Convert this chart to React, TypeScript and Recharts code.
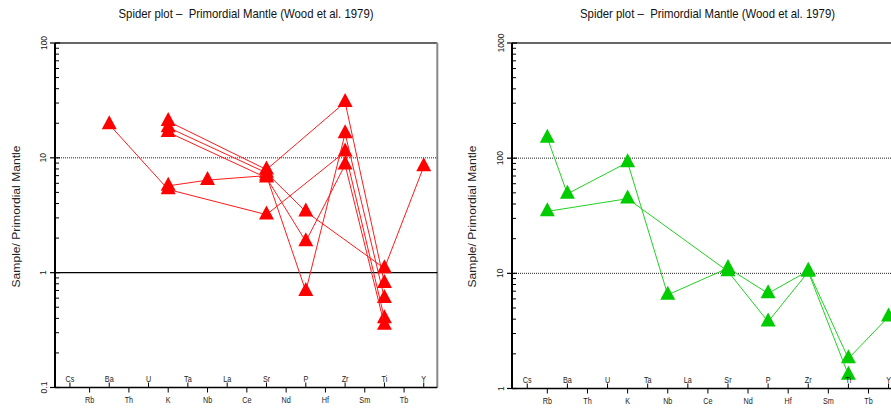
import { ScatterChart, Scatter, XAxis, YAxis, ReferenceLine } from 'recharts'

const ELEMENTS = ['Cs', 'Rb', 'Ba', 'Th', 'U', 'K', 'Ta', 'Nb', 'La', 'Ce', 'Sr', 'Nd', 'P', 'Hf', 'Zr', 'Sm', 'Ti', 'Tb', 'Y']

// sample / primordial mantle, one value per element, null = not plotted
//               Cs    Rb    Ba    Th    U     K     Ta    Nb    La    Ce    Sr    Nd    P     Hf    Zr    Sm    Ti     Tb    Y
const red1 = [null, null, 19.5, null, null, 5.3, null, null, null, null, 3.2, null, null, null, 11.3, null, 0.4, null, null]
const red2 = [null, null, null, null, null, 5.7, null, 6.4, null, null, 7.0, null, 0.69, null, 16.3, null, 0.6, null, null]
const red3 = [null, null, null, null, null, 20.8, null, null, null, null, 7.9, null, null, null, 30.5, null, 0.81, null, null]
const red4 = [null, null, null, null, null, 18.4, null, null, null, null, 7.4, null, 3.4, null, null, null, 1.09, null, 8.4]
const red5 = [null, null, null, null, null, 16.7, null, null, null, null, 6.7, null, 1.87, null, 8.7, null, 0.35, null, null]

const green1 = [null, 150, 49, null, null, 92, null, 6.5, null, null, 11.1, null, 6.7, null, 10.5, null, 1.82, null, 4.2]
const green2 = [null, 34.5, null, null, null, 44.5, null, null, null, null, 10.4, null, 3.8, null, 10.3, null, 1.31, null, null]

const X_DOMAIN: [number, number] = [-0.76, 18.69]
const FONT = '"Liberation Sans", Arial, sans-serif'
const TITLE = 'Spider plot –  Primordial Mantle (Wood et al. 1979)'

const toPoints = (vals: (number | null)[]) =>
  vals.flatMap((v, i) => (v == null ? [] : [{ x: i, y: v }]))

const logTicks = (lo: number, hi: number) => {
  const out: number[] = []
  for (let e = lo; e < hi; e++) for (let m = 1; m < 10; m++) out.push(m * Math.pow(10, e))
  out.push(Math.pow(10, hi))
  return out
}

const isMajor = (v: number) => Math.abs(Math.log10(v) - Math.round(Math.log10(v))) < 1e-6

function YTick(props: any) {
  const { x, y, payload } = props
  const v = payload.value
  if (!isMajor(v)) return <line x1={x} x2={x + 4} y1={y} y2={y} stroke="#000" strokeWidth={1} />
  const lx = x - 8.5
  return (
    <g>
      <line x1={x - 5} x2={x + 5} y1={y} y2={y} stroke="#000" strokeWidth={1.2} />
      <text
        x={lx}
        y={y}
        transform={`rotate(-90 ${lx} ${y})`}
        textAnchor="middle"
        fontSize={8.5}
        fontFamily={FONT}
        fill="#222"
      >
        {String(+v.toPrecision(3))}
      </text>
    </g>
  )
}

function XTick(props: any) {
  const { x, y, payload } = props
  const i = payload.value
  const up = i % 2 === 0
  const ty = up ? y - 6 : y + 15.5
  return (
    <g>
      <line x1={x} x2={x} y1={y} y2={up ? y - 5 : y + 5} stroke="#000" strokeWidth={1} />
      <g transform={`translate(${x} ${ty}) scale(0.85 1)`}>
        <text x={0} y={0} textAnchor="middle" fontSize={8.5} fontFamily={FONT} fill="#222">
          {ELEMENTS[i]}
        </text>
      </g>
    </g>
  )
}

// filled triangle marker, point at its centroid
const triangle = (color: string) => (p: any) => {
  const half = 7.5
  return (
    <polygon
      points={`${p.cx},${p.cy - 9.2} ${p.cx + half},${p.cy + 4.8} ${p.cx - half},${p.cy + 4.8}`}
      fill={color}
    />
  )
}

type PanelProps = {
  left: number
  marginRight: number
  xHeight: number
  decades: [number, number]
  series: (number | null)[][]
  color: string
  lineColor: string
  dotted: number[]
  solid: number[]
}

function Panel({ left, marginRight, xHeight, decades, series, color, lineColor, dotted, solid }: PanelProps) {
  const yMin = Math.pow(10, decades[0])
  const yMax = Math.pow(10, decades[1])
  return (
    <div style={{ position: 'absolute', left, top: 0 }}>
      <ScatterChart width={460} height={410} margin={{ top: 43, right: marginRight, bottom: 0, left: 0 }}>
        <XAxis
          type="number"
          dataKey="x"
          domain={X_DOMAIN}
          allowDataOverflow
          ticks={ELEMENTS.map((_, i) => i)}
          interval={0}
          height={xHeight}
          tickSize={0}
          tickMargin={0}
          tick={<XTick />}
          axisLine={{ stroke: '#000', strokeWidth: 1.5 }}
        />
        <YAxis
          type="number"
          dataKey="y"
          scale="log"
          domain={[yMin, yMax]}
          allowDataOverflow
          ticks={logTicks(decades[0], decades[1])}
          interval={0}
          width={55}
          tickSize={0}
          tickMargin={0}
          tick={<YTick />}
          axisLine={{ stroke: '#000', strokeWidth: 2 }}
        />
        <ReferenceLine y={yMax} stroke="#666" strokeWidth={2} />
        <ReferenceLine x={X_DOMAIN[1]} stroke="#888" strokeWidth={2} />
        {dotted.map((v) => (
          <ReferenceLine key={'d' + v} y={v} stroke="#222" strokeWidth={1} strokeDasharray="1 1" />
        ))}
        {solid.map((v) => (
          <ReferenceLine key={'s' + v} y={v} stroke="#000" strokeWidth={1.3} />
        ))}
        {series.map((s, k) => (
          <Scatter
            key={k}
            data={toPoints(s)}
            fill={color}
            line={{ stroke: lineColor, strokeWidth: 1 }}
            lineType="joint"
            shape={triangle(color)}
            isAnimationActive={false}
          />
        ))}
      </ScatterChart>
    </div>
  )
}

function Labels() {
  const yLabel = (x: number) => (
    <text
      x={x}
      y={216.5}
      transform={`rotate(-90 ${x} 216.5)`}
      textAnchor="middle"
      fontSize={11}
      fontFamily={FONT}
      fill="#222"
      textLength={142}
      lengthAdjust="spacingAndGlyphs"
    >
      Sample/ Primordial Mantle
    </text>
  )
  const title = (x: number) => (
    <text
      x={x}
      y={17.5}
      textAnchor="middle"
      fontSize={13.5}
      fontFamily={FONT}
      fill="#111"
      textLength={255}
      lengthAdjust="spacingAndGlyphs"
      style={{ whiteSpace: 'pre' }}
    >
      {TITLE}
    </text>
  )
  return (
    <svg width={891} height={410} style={{ position: 'absolute', left: 0, top: 0, pointerEvents: 'none' }}>
      {title(246)}
      {title(707.5)}
      {yLabel(20)}
      {yLabel(476)}
    </svg>
  )
}

export default function App() {
  return (
    <div
      style={{
        position: 'absolute',
        left: 0,
        top: 0,
        width: 891,
        height: 410,
        overflow: 'hidden',
        background: '#fff',
      }}
    >
      <Panel
        left={0}
        marginRight={22.7}
        xHeight={22.5}
        decades={[-1, 2]}
        series={[red1, red2, red3, red4, red5]}
        color="#FF0000"
        lineColor="#FF1a1a"
        dotted={[10]}
        solid={[1]}
      />
      <Panel
        left={457}
        marginRight={14.6}
        xHeight={21.5}
        decades={[0, 3]}
        series={[green1, green2]}
        color="#00CC00"
        lineColor="#22D022"
        dotted={[100, 10]}
        solid={[]}
      />
      <Labels />
    </div>
  )
}
